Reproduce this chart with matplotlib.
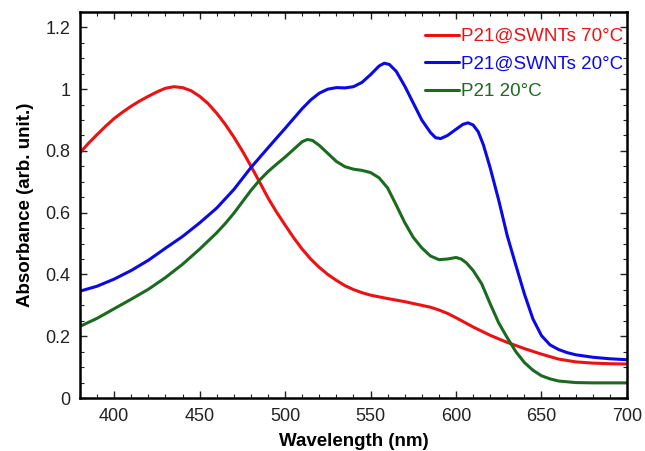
import matplotlib
matplotlib.use("Agg")
import matplotlib.pyplot as plt
from matplotlib.ticker import MultipleLocator, FuncFormatter

plt.rcParams['font.family'] = ['Liberation Sans', 'DejaVu Sans']

# Absorption spectra (wavelength in nm, absorbance in arb. units)
wl_swnt70 = [380, 385, 390, 395, 400, 405, 410, 415, 420, 425, 430, 435, 440,
             445, 450, 455, 460, 465, 470, 475, 480, 485, 490, 495, 500, 505,
             510, 515, 520, 525, 530, 535, 540, 545, 550, 560, 570, 580, 585,
             590, 595, 600, 605, 610, 620, 630, 640, 650, 660, 670, 680, 690,
             700]
abs_swnt70 = [0.794, 0.825, 0.853, 0.880, 0.905, 0.926, 0.945, 0.962, 0.977,
              0.991, 1.003, 1.008, 1.005, 0.995, 0.977, 0.953, 0.922, 0.886,
              0.845, 0.800, 0.751, 0.700, 0.648, 0.602, 0.560, 0.519, 0.482,
              0.450, 0.423, 0.400, 0.381, 0.364, 0.351, 0.341, 0.333, 0.322,
              0.312, 0.300, 0.294, 0.285, 0.274, 0.260, 0.245, 0.230, 0.203,
              0.180, 0.160, 0.142, 0.126, 0.117, 0.113, 0.111, 0.110]

wl_swnt20 = [380, 390, 400, 410, 420, 430, 440, 450, 460, 470, 480, 490, 500,
             505, 510, 515, 520, 525, 530, 535, 540, 545, 550, 555, 558, 561,
             565, 570, 575, 580, 585, 588, 591, 595, 600, 604, 607, 610, 613,
             616, 620, 625, 630, 635, 640, 645, 650, 655, 660, 665, 670, 680,
             690, 700]
abs_swnt20 = [0.346, 0.362, 0.385, 0.413, 0.446, 0.485, 0.523, 0.567, 0.615,
              0.675, 0.746, 0.810, 0.873, 0.905, 0.937, 0.965, 0.987, 1.000,
              1.005, 1.004, 1.008, 1.022, 1.047, 1.075, 1.084, 1.080, 1.058,
              1.010, 0.955, 0.900, 0.860, 0.843, 0.840, 0.850, 0.870, 0.886,
              0.891, 0.884, 0.862, 0.820, 0.745, 0.640, 0.525, 0.430, 0.337,
              0.256, 0.202, 0.172, 0.157, 0.147, 0.140, 0.132, 0.127, 0.124]

wl_p21 = [380, 390, 400, 410, 420, 430, 440, 450, 460, 465, 470, 475, 480,
          485, 490, 495, 500, 505, 510, 513, 516, 520, 525, 530, 535, 540,
          545, 550, 555, 560, 565, 570, 575, 580, 585, 590, 595, 600, 603,
          606, 610, 615, 620, 625, 630, 635, 640, 645, 650, 655, 660, 670,
          680, 700]
abs_p21 = [0.232, 0.258, 0.289, 0.320, 0.352, 0.390, 0.433, 0.482, 0.535,
           0.565, 0.598, 0.635, 0.672, 0.705, 0.733, 0.757, 0.780, 0.805,
           0.830, 0.837, 0.834, 0.818, 0.792, 0.766, 0.749, 0.741, 0.737,
           0.730, 0.713, 0.680, 0.625, 0.568, 0.520, 0.486, 0.460, 0.448,
           0.450, 0.455, 0.450, 0.438, 0.413, 0.370, 0.305, 0.243, 0.195,
           0.150, 0.115, 0.090, 0.072, 0.062, 0.055, 0.050, 0.049, 0.049]

labels = ["P21@SWNTs 70°C", "P21@SWNTs 20°C", "P21 20°C"]
colors = ["#ee1111", "#0a0ae6", "#1b6b1f"]

fig = plt.figure(figsize=(6.45, 4.51), dpi=100)
ax = fig.add_axes([0.124, 0.1175, 0.848, 0.856])

series = [(wl_swnt70, abs_swnt70), (wl_swnt20, abs_swnt20), (wl_p21, abs_p21)]
for (x, y), lab, col in zip(series, labels, colors):
    ax.plot(x, y, color=col, lw=2.2, label=lab,
            solid_capstyle='round', solid_joinstyle='round')

ax.set_xlim(380, 700)
ax.set_ylim(0, 1.25)
ax.xaxis.set_major_locator(MultipleLocator(50))
ax.xaxis.set_minor_locator(MultipleLocator(10))
ax.yaxis.set_major_locator(MultipleLocator(0.2))
ax.yaxis.set_minor_locator(MultipleLocator(0.05))
ax.yaxis.set_major_formatter(FuncFormatter(lambda v, p: f"{v:g}"))

ax.tick_params(which='both', direction='in', top=True, right=True,
               labelsize=13, colors='#222222')
ax.tick_params(which='major', length=5, width=1.0, pad=7)
ax.tick_params(which='minor', length=3, width=0.8)
for sp in ax.spines.values():
    sp.set_linewidth(1.8)
    sp.set_color('black')

ax.set_xlabel("Wavelength (nm)", fontsize=13.5, fontweight='bold', labelpad=6)
ax.set_ylabel("Absorbance (arb. unit.)", fontsize=13.5, fontweight='bold', labelpad=8)

leg = ax.legend(loc='upper right', bbox_to_anchor=(1.0096, 0.9825),
                frameon=False, fontsize=13.5,
                handlelength=1.8, handletextpad=0.1, labelspacing=0.55,
                borderaxespad=0.0, borderpad=0.5)
for txt, col in zip(leg.get_texts(), colors):
    txt.set_color(col)

fig.savefig("out.png", dpi=100)
